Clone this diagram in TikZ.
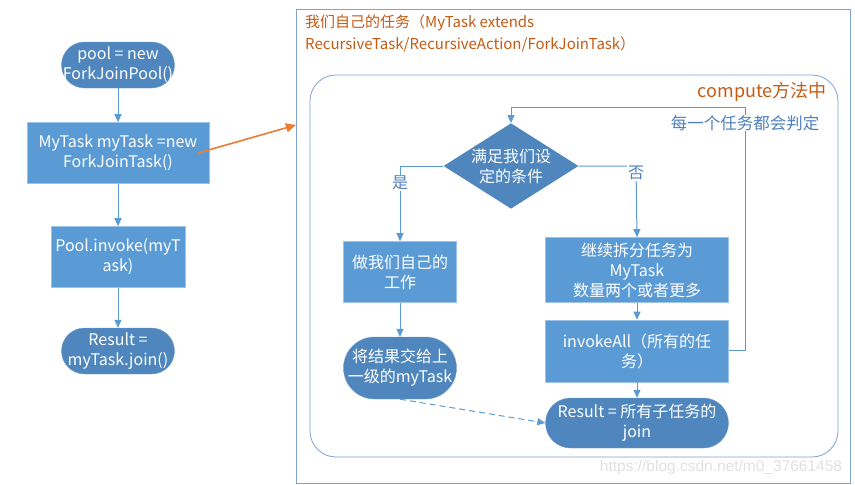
\documentclass[tikz,border=0pt]{standalone}
\usepackage{fontspec}
\setmainfont{Noto Sans CJK SC}
\newfontfamily\wmfont{Liberation Sans}
\usetikzlibrary{arrows.meta,shapes.geometric}
\definecolor{boxblue}{HTML}{5B9BD5}
\definecolor{darkblue}{HTML}{4E86BD}
\definecolor{edgeblue}{HTML}{9DC3E6}
\definecolor{lineblue}{HTML}{5B9BD5}
\definecolor{frameblue}{HTML}{7FA2D2}
\definecolor{titleorange}{HTML}{C55A11}
\definecolor{arroworange}{HTML}{ED7D31}
\definecolor{notetext}{HTML}{4F81BD}
\tikzset{
  x=1pt, y=-1pt,
  boxnode/.style={rectangle, fill=boxblue, draw=edgeblue, line width=0.6pt, text=white, align=center, inner sep=0pt, font=\fontsize{16}{20}\selectfont},
  pillnode/.style={rectangle, fill=darkblue, draw=darkblue!80!white, line width=0.4pt, text=white, align=center, inner sep=0pt, font=\fontsize{16}{20}\selectfont},
  flow/.style={draw=lineblue, line width=1pt, -{Triangle[width=7pt,length=8pt]}},
  lbl/.style={fill=white, text=notetext, inner sep=1pt, font=\fontsize{16}{18}\selectfont},
}
\begin{document}
\begin{tikzpicture}
\useasboundingbox (0,0) rectangle (855,485);
% frames
\draw[frameblue, line width=0.8pt] (296,9) rectangle (850,483);
\draw[frameblue, line width=0.8pt, rounded corners=26pt] (310,75) rectangle (838,457);
\node[anchor=west, text=titleorange, align=left, inner sep=0pt, font=\fontsize{15}{22}\selectfont] (title) at (305,33) {我们自己的任务（MyTask extends\\RecursiveTask/RecursiveAction/ForkJoinTask）};
\node[anchor=east, text=titleorange, inner sep=0pt, font=\fontsize{18}{22}\selectfont] (comp) at (827,92) {compute方法中};
% left column
\node[pillnode, minimum width=113pt, minimum height=46pt, rounded corners=23pt] (pool) at (118,65) {pool = new\\ForkJoinPool()};
\node[boxnode, minimum width=182pt, minimum height=61pt] (mytask) at (118,153) {MyTask myTask =new\\ForkJoinTask()};
\node[boxnode, minimum width=134pt, minimum height=61pt] (invoke) at (118,257) {Pool.invoke(myT\\ask)};
\node[pillnode, minimum width=113pt, minimum height=46pt, rounded corners=23pt] (result) at (118,351) {Result =\\myTask.join()};
\draw[flow] (pool) -- (mytask);
\draw[flow] (mytask) -- (invoke);
\draw[flow] (invoke) -- (result);
\coordinate (ostart) at (198,153);
\coordinate (oend) at (296,125);
\draw[arroworange, line width=1.6pt, -{Triangle[width=9pt,length=10pt]}] (ostart) -- (oend);
% compute flow
\node[diamond, fill=darkblue, text=white, inner sep=0pt, minimum width=134pt, minimum height=85pt, aspect=1.58, align=center, font=\fontsize{16}{20}\selectfont] (cond) at (511,166) {满足我们设\\定的条件};
\node[boxnode, minimum width=113pt, minimum height=61pt] (work) at (400,272) {做我们自己的\\工作};
\node[pillnode, minimum width=113pt, minimum height=62pt, rounded corners=31pt] (give) at (400,368) {将结果交给上\\一级的myTask};
\node[boxnode, minimum width=183pt, minimum height=65pt] (split) at (637,270) {继续拆分任务为\\MyTask\\数量两个或者更多};
\node[boxnode, minimum width=183pt, minimum height=62pt] (all) at (637,351) {invokeAll（所有的任\\务）};
\node[pillnode, minimum width=183pt, minimum height=50pt, rounded corners=25pt] (sum) at (637,423) {Result = 所有子任务的\\join};
\coordinate (ycorner) at (400,166);
\coordinate (ncorner) at (636,166);
\draw[flow] (cond.west) -- (ycorner) -- (work.north);
\draw[flow] (cond.east) -- (ncorner) -- (split.north);
\node[lbl] (yes) at (400,183) {是};
\node[lbl] (no) at (636,173) {否};
\draw[flow] (work) -- (give);
\draw[flow] (split) -- (all);
\draw[flow] (all) -- (sum);
\coordinate (l1) at (745,350);
\coordinate (l2) at (745,107);
\coordinate (l3) at (511,107);
\draw[flow] (all.east |- l1) -- (l1) -- (l2) -- (l3) -- (cond.north);
\node[lbl, inner sep=0pt, font=\fontsize{16.5}{18}\selectfont] (judge) at (745,123) {每一个任务都会判定};
\draw[flow, dashed, dash pattern=on 6pt off 4pt] (give.south) -- (sum.west);
% watermark
\node[text=black!12, inner sep=0pt, font=\wmfont\fontsize{15.5}{18}\selectfont] (wm) at (721,467) {https://blog.csdn.net/m0\_37661458};
\end{tikzpicture}
\end{document}
